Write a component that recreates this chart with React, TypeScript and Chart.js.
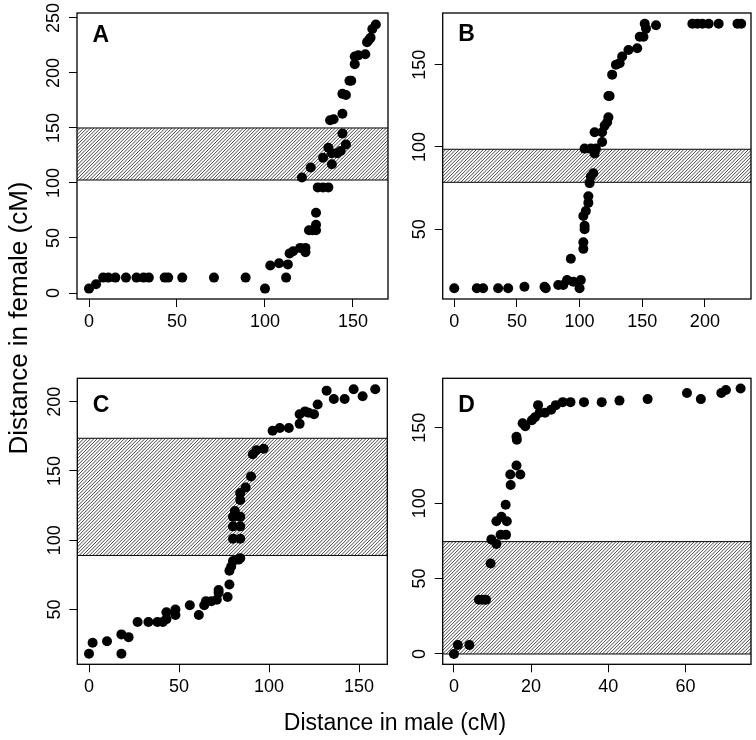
import React, { useEffect, useRef } from 'react';
import { Chart, registerables } from 'chart.js';

Chart.register(...registerables);

// ---------- data (cM) ----------
const maleA = [0, 4, 8, 11, 15, 21, 27, 31, 34, 43, 45, 53, 71, 89, 100, 103, 108, 112, 113, 114, 116, 120, 123, 123, 121, 126, 125, 127, 129, 129, 129, 130, 133, 136, 133, 136, 138, 138, 141, 143, 146, 144, 137, 139, 144, 144, 146, 148, 149, 151, 151, 153, 157, 158, 159, 160, 161, 163];
const femaleA = [4, 8, 14, 14, 14, 14, 14, 14, 14, 14, 14, 14, 14, 14, 4, 25, 27, 14, 26, 36, 38, 41, 41, 37, 105, 114, 57, 57, 57, 62, 73, 96, 96, 96, 123, 132, 117, 127, 127, 129, 135, 145, 157, 158, 163, 181, 180, 193, 193, 208, 215, 216, 217, 228, 230, 232, 240, 244];

const maleB = [0, 18, 23, 35, 43, 56, 72, 73, 83, 87, 90, 95, 101, 100, 93, 103, 103, 104, 104, 103, 105, 107, 107, 108, 109, 111, 104, 109, 112, 113, 118, 112, 118, 120, 122, 123, 123, 124, 126, 129, 132, 134, 139, 146, 148, 151, 152, 153, 161, 190, 194, 198, 203, 211, 226, 229];
const femaleB = [14, 14, 14, 14, 14, 15, 15, 14, 16, 16, 19, 18, 19, 14, 32, 38, 42, 50, 52, 58, 61, 66, 70, 78, 82, 84, 99, 99, 96, 99, 103, 109, 109, 113, 115, 118, 131, 131, 144, 150, 151, 155, 159, 160, 167, 167, 175, 172, 174, 175, 175, 175, 175, 175, 175, 175];

const maleC = [0, 2, 10, 18, 18, 22, 27, 33, 38, 41, 43, 43, 48, 48, 56, 61, 64, 65, 68, 71, 72, 72, 77, 78, 78, 79, 80, 83, 84, 80, 84, 80, 84, 80, 81, 84, 84, 84, 87, 90, 91, 93, 97, 102, 106, 111, 117, 117, 120, 122, 125, 127, 132, 136, 142, 147, 152, 159];
const femaleC = [18, 26, 27, 18, 32, 30, 41, 41, 41, 41, 43, 48, 50, 46, 53, 46, 53, 56, 56, 57, 64, 62, 59, 68, 78, 81, 85, 86, 87, 101, 101, 110, 110, 117, 121, 117, 129, 134, 138, 146, 162, 165, 166, 179, 181, 181, 184, 191, 193, 192, 191, 198, 208, 202, 202, 209, 204, 209];

const maleD = [0, 1, 4, 6.5, 7.5, 8.3, 9.5, 9.7, 11, 11, 12.3, 13.7, 12.1, 13.5, 13.4, 14.7, 14.6, 16.2, 17.2, 16.2, 16.3, 17.8, 18.5, 20.2, 21, 21.8, 22.2, 23.6, 25.2, 26.4, 28.2, 30.2, 33.7, 38.3, 42.9, 50.2, 60.4, 64, 69.3, 70.5, 74.3];
const femaleD = [0, 6, 6, 36, 36, 36, 60, 76, 73, 88, 91, 88, 79, 79, 99, 112, 119, 125, 119, 144, 142, 153, 151, 155, 157, 165, 160, 160, 162, 165, 167, 167, 167, 167, 168, 169, 173, 169, 173, 175, 176];

// hatched intervals on the female map [low, high]
const bandA = [102.7, 150];
const bandB = [78.5, 98.6];
const bandC = [89, 173.6];
const bandD = [0, 74.5];

// tick labels
const xTicksA = [0, 50, 100, 150];
const yTicksA = [0, 50, 100, 150, 200, 250];
const xTicksB = [0, 50, 100, 150, 200];
const yTicksB = [50, 100, 150];
const xTicksC = [0, 50, 100, 150];
const yTicksC = [50, 100, 150, 200];
const xTicksD = [0, 20, 40, 60];
const yTicksD = [0, 50, 100, 150];

// axis ranges
const xRangeA = [-6.82, 169.9];
const yRangeA = [-5.45, 254.5];
const xRangeB = [-9.23, 236.8];
const yRangeB = [7.5, 181.5];
const xRangeC = [-6.5, 165.7];
const yRangeC = [10.4, 216.9];
const xRangeD = [-2.92, 77.0];
const yRangeD = [-6.83, 182.8];

const panelLetters = ['A', 'B', 'C', 'D'];
const xTitle = 'Distance in male (cM)';
const yTitle = 'Distance in female (cM)';

const FONT = '"Liberation Sans", Arial, Helvetica, sans-serif';

type PanelCfg = {
  letter: string;
  male: number[];
  female: number[];
  band: number[];
  xTicks: number[];
  yTicks: number[];
  xRange: number[];
  yRange: number[];
  canvas: { left: number; top: number; w: number; h: number };
  box: { l: number; t: number; r: number; b: number };
  letterDy: number;
};

const panels: PanelCfg[] = [
  { letter: panelLetters[0], male: maleA, female: femaleA, band: bandA, xTicks: xTicksA, yTicks: yTicksA, xRange: xRangeA, yRange: yRangeA,
    canvas: { left: 0, top: 0, w: 400, h: 345 }, box: { l: 77, t: 13, r: 388, b: 299 }, letterDy: 20.5 },
  { letter: panelLetters[1], male: maleB, female: femaleB, band: bandB, xTicks: xTicksB, yTicks: yTicksB, xRange: xRangeB, yRange: yRangeB,
    canvas: { left: 400, top: 0, w: 356, h: 345 }, box: { l: 442.7, t: 13, r: 752, b: 299 }, letterDy: 20 },
  { letter: panelLetters[2], male: maleC, female: femaleC, band: bandC, xTicks: xTicksC, yTicks: yTicksC, xRange: xRangeC, yRange: yRangeC,
    canvas: { left: 0, top: 345, w: 400, h: 395 }, box: { l: 77.3, t: 378.3, r: 387.3, b: 664.3 }, letterDy: 25 },
  { letter: panelLetters[3], male: maleD, female: femaleD, band: bandD, xTicks: xTicksD, yTicks: yTicksD, xRange: xRangeD, yRange: yRangeD,
    canvas: { left: 400, top: 345, w: 356, h: 395 }, box: { l: 442.7, t: 378.3, r: 752, b: 664.3 }, letterDy: 25 },
];

const Y_W = 40;
const X_H = 40;

function Panel({ cfg }: { cfg: PanelCfg }) {
  const ref = useRef<HTMLCanvasElement>(null);

  useEffect(() => {
    if (!ref.current) return;
    const { canvas, box } = cfg;
    const padL = box.l - canvas.left - Y_W;
    const padT = box.t - canvas.top;
    const padR = canvas.left + canvas.w - box.r;
    const padB = canvas.top + canvas.h - box.b - X_H;

    const plugin = {
      id: 'rpanel',
      beforeDatasetsDraw(chart: any) {
        const { ctx, chartArea: a, scales } = chart;
        const y = scales.y;
        const yTop = y.getPixelForValue(cfg.band[1]);
        const yBot = y.getPixelForValue(cfg.band[0]);
        const h = yBot - yTop;
        ctx.save();
        ctx.beginPath();
        ctx.rect(a.left, yTop, a.right - a.left, h);
        ctx.clip();
        ctx.strokeStyle = '#1a1a1a';
        ctx.lineWidth = 0.8;
        ctx.beginPath();
        for (let sx = a.left - h; sx < a.right + 2; sx += 3.4) {
          ctx.moveTo(sx, yBot);
          ctx.lineTo(sx + h, yTop);
        }
        ctx.stroke();
        ctx.restore();
        ctx.save();
        ctx.strokeStyle = '#000';
        ctx.lineWidth = 1;
        ctx.beginPath();
        ctx.moveTo(a.left, yTop);
        ctx.lineTo(a.right, yTop);
        ctx.moveTo(a.left, yBot);
        ctx.lineTo(a.right, yBot);
        ctx.stroke();
        ctx.restore();
      },
      afterDraw(chart: any) {
        const { ctx, chartArea: a, scales } = chart;
        ctx.save();
        ctx.strokeStyle = '#000';
        ctx.lineWidth = 1.3;
        ctx.strokeRect(a.left, a.top, a.right - a.left, a.bottom - a.top);
        // y tick labels (parallel to axis, as in R)
        ctx.fillStyle = '#000';
        ctx.font = `18px ${FONT}`;
        ctx.textAlign = 'center';
        ctx.textBaseline = 'middle';
        for (const t of scales.y.ticks) {
          const py = scales.y.getPixelForValue(t.value);
          ctx.save();
          ctx.translate(a.left - 22.5, py);
          ctx.rotate(-Math.PI / 2);
          ctx.fillText(String(t.value), 0, 0);
          ctx.restore();
        }
        // panel letter
        ctx.font = `bold 23px ${FONT}`;
        ctx.textAlign = 'left';
        ctx.textBaseline = 'alphabetic';
        ctx.fillText(cfg.letter, a.left + 15.5, a.top + cfg.letterDy + 8.2);
        ctx.restore();
      },
    };

    const chart = new Chart(ref.current, {
      type: 'scatter',
      data: {
        datasets: [
          {
            data: cfg.male.map((x, i) => ({ x, y: cfg.female[i] })),
            backgroundColor: '#000',
            borderColor: '#000',
            borderWidth: 0,
            pointRadius: 5,
            pointHoverRadius: 5,
          },
        ],
      },
      options: {
        animation: false,
        responsive: false,
        maintainAspectRatio: false,
        devicePixelRatio: 1,
        layout: { padding: { left: padL, top: padT, right: padR, bottom: padB } },
        plugins: { legend: { display: false }, tooltip: { enabled: false } },
        scales: {
          x: {
            type: 'linear',
            min: cfg.xRange[0],
            max: cfg.xRange[1],
            afterBuildTicks: (s: any) => {
              s.ticks = cfg.xTicks.map((v) => ({ value: v }));
            },
            afterFit: (s: any) => {
              s.height = X_H;
              s.paddingLeft = 0;
              s.paddingRight = 0;
            },
            ticks: {
              font: { family: FONT, size: 18 },
              color: '#000',
              padding: 4,
              maxRotation: 0,
              minRotation: 0,
              autoSkip: false,
              callback: (v: any) => String(v),
            },
            grid: { display: true, drawOnChartArea: false, drawTicks: true, tickLength: 8, color: '#000', lineWidth: 1 },
            border: { display: false },
          },
          y: {
            type: 'linear',
            min: cfg.yRange[0],
            max: cfg.yRange[1],
            afterBuildTicks: (s: any) => {
              s.ticks = cfg.yTicks.map((v) => ({ value: v }));
            },
            afterFit: (s: any) => {
              s.width = Y_W;
              s.paddingTop = 0;
              s.paddingBottom = 0;
            },
            ticks: { display: false },
            grid: { display: true, drawOnChartArea: false, drawTicks: true, tickLength: 8, color: '#000', lineWidth: 1 },
            border: { display: false },
          },
        },
      },
      plugins: [plugin],
    } as any);

    return () => chart.destroy();
  }, [cfg]);

  return (
    <canvas
      ref={ref}
      width={cfg.canvas.w}
      height={cfg.canvas.h}
      style={{ position: 'absolute', left: cfg.canvas.left, top: cfg.canvas.top, width: cfg.canvas.w, height: cfg.canvas.h }}
    />
  );
}

export default function App() {
  return (
    <div style={{ position: 'fixed', left: 0, top: 0, width: 756, height: 740, background: '#fff', overflow: 'hidden' }}>
      {panels.map((p) => (
        <Panel key={p.letter} cfg={p} />
      ))}
      <div
        style={{
          position: 'absolute',
          left: 18 - 200,
          top: 318 - 15,
          width: 400,
          height: 30,
          lineHeight: '30px',
          textAlign: 'center',
          fontFamily: FONT,
          fontSize: 26,
          color: '#000',
          transform: 'rotate(-90deg)',
          transformOrigin: '50% 50%',
          whiteSpace: 'nowrap',
        }}
      >
        {yTitle}
      </div>
      <div
        style={{
          position: 'absolute',
          left: 395 - 200,
          top: 722 - 14,
          width: 400,
          height: 28,
          lineHeight: '28px',
          textAlign: 'center',
          fontFamily: FONT,
          fontSize: 23,
          color: '#000',
          whiteSpace: 'nowrap',
        }}
      >
        {xTitle}
      </div>
    </div>
  );
}
